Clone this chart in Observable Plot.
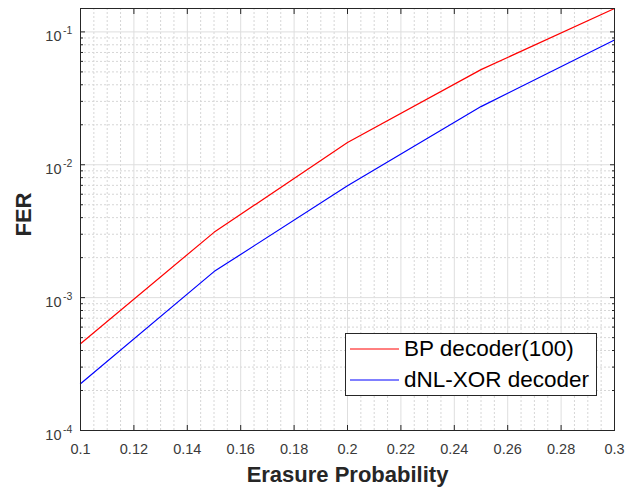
<!DOCTYPE html>
<html>
<head>
<meta charset="utf-8">
<script src="https://cdn.jsdelivr.net/npm/d3@7"></script>
<script src="https://cdn.jsdelivr.net/npm/@observablehq/plot@0.6"></script>
<style>
  body { margin: 0; background: #fff; }
  #wrap { position: relative; width: 631px; height: 495px; font-family: "Liberation Sans", Arial, sans-serif; }
  #wrap svg { display: block; }
  .legend { position: absolute; left: 345px; top: 333px; width: 250px; height: 61px;
            border: 1px solid #262626; background: #fff; }
  .legend .row { position: absolute; left: 0; height: 28px; display: flex; align-items: center; }
  .legend .row svg { width: 58px; height: 28px; }
  .legend .row span { font-size: 22.5px; color: #000; white-space: nowrap; }
</style>
</head>
<body>
<div id="wrap"></div>
<script>
// Frame error rate versus erasure probability
const erasureProb = [0.1, 0.15, 0.2, 0.25, 0.3];
const ferBP = [4.5e-4, 3.1e-3, 1.47e-2, 5.2e-2, 0.15];
const ferXOR = [2.25e-4, 1.57e-3, 6.95e-3, 2.74e-2, 0.087];

const seriesNames = ["BP decoder(100)", "dNL-XOR decoder"];
const seriesColors = ["#ff0000", "#0000ff"];

const xTicks = [0.1, 0.12, 0.14, 0.16, 0.18, 0.2, 0.22, 0.24, 0.26, 0.28, 0.3];
const xTickLabels = ["0.1", "0.12", "0.14", "0.16", "0.18", "0.2", "0.22", "0.24", "0.26", "0.28", "0.3"];
const yTicks = [1e-4, 1e-3, 1e-2, 1e-1];
const yExponents = ["-4", "-3", "-2", "-1"];

const xDomain = [0.1, 0.3];
const yDomain = [1e-4, 0.15];

// long-format table for the line mark
const rows = [];
[ferBP, ferXOR].forEach((vals, s) =>
  vals.forEach((v, i) => rows.push({p: erasureProb[i], fer: v, series: seriesNames[s]})));

// minor grid positions: every 0.005 in x, 2..9 per decade in y
const xMinor = d3.range(20, 61).map(i => i * 0.005)
  .filter(v => !xTicks.some(t => Math.abs(t - v) < 1e-9));
const yMinor = [];
for (const base of [1e-4, 1e-3, 1e-2, 1e-1])
  for (let m = 2; m <= 9; m++) if (base * m <= yDomain[1]) yMinor.push(base * m);

const gridMajor = "#dedede";
const gridMinor = "#d6d6d6";
const axisColor = "#262626";
const tickText = "#3a3a3a";

const chart = Plot.plot({
  width: 631,
  height: 495,
  marginLeft: 80,
  marginRight: 17,
  marginTop: 8,
  marginBottom: 65,
  style: {fontFamily: "'Liberation Sans', Arial, sans-serif", color: axisColor, background: "#fff"},
  x: {domain: xDomain},
  y: {type: "log", domain: yDomain},
  color: {domain: seriesNames, range: seriesColors},
  marks: [
    Plot.ruleX(xMinor, {stroke: gridMinor, strokeDasharray: "2,2"}),
    Plot.ruleY(yMinor, {stroke: gridMinor, strokeDasharray: "2,2"}),
    Plot.ruleX(xTicks, {stroke: gridMajor}),
    Plot.ruleY(yTicks, {stroke: gridMajor}),
    Plot.line(rows, {x: "p", y: "fer", stroke: "series", strokeWidth: 1.2}),
    // inward tick marks on all four sides
    Plot.axisX(xTicks, {anchor: "bottom", tickSize: -5, text: null, label: null, stroke: axisColor}),
    Plot.axisX(xTicks, {anchor: "top", tickSize: -5, text: null, label: null, stroke: axisColor}),
    Plot.axisY(yTicks, {anchor: "left", tickSize: -5, text: null, label: null, stroke: axisColor}),
    Plot.axisY(yTicks, {anchor: "right", tickSize: -5, text: null, label: null, stroke: axisColor}),
    Plot.axisY(yMinor, {anchor: "left", tickSize: -3, text: null, label: null, stroke: axisColor}),
    Plot.axisY(yMinor, {anchor: "right", tickSize: -3, text: null, label: null, stroke: axisColor}),
    // tick labels
    Plot.axisX(xTicks, {anchor: "bottom", tickSize: 0, tickPadding: 13, fontSize: 14.5,
      fill: tickText, tickFormat: d => xTickLabels[xTicks.indexOf(d)], label: null}),
    Plot.text(yTicks, {y: d => d, frameAnchor: "left", text: () => "10", textAnchor: "end",
      dx: -19, dy: 4.5, fontSize: 14.5, fill: tickText}),
    Plot.text(yTicks, {y: d => d, frameAnchor: "left", text: (d, i) => yExponents[i], textAnchor: "start",
      dx: -17.5, dy: -1, fontSize: 10.5, fill: tickText}),
    // axis titles
    Plot.text(["Erasure Probability"], {frameAnchor: "bottom", lineAnchor: "middle", dy: 44, fontSize: 22,
      fontWeight: "bold", fill: axisColor}),
    Plot.text(["FER"], {frameAnchor: "left", lineAnchor: "middle", dx: -57, dy: 17, rotate: -90, fontSize: 22,
      fontWeight: "bold", fill: axisColor}),
    Plot.frame({stroke: axisColor})
  ]
});

const wrap = document.getElementById("wrap");
wrap.appendChild(chart);

// legend box inside the axes
const legend = document.createElement("div");
legend.className = "legend";
seriesNames.forEach((name, i) => {
  const row = document.createElement("div");
  row.className = "row";
  row.style.top = (i === 0 ? 1 : 32) + "px";
  row.innerHTML = `<svg><line x1="4" x2="53" y1="14" y2="14" stroke="${seriesColors[i]}" stroke-width="1"/></svg><span>${name}</span>`;
  legend.appendChild(row);
});
wrap.appendChild(legend);
</script>
</body>
</html>
